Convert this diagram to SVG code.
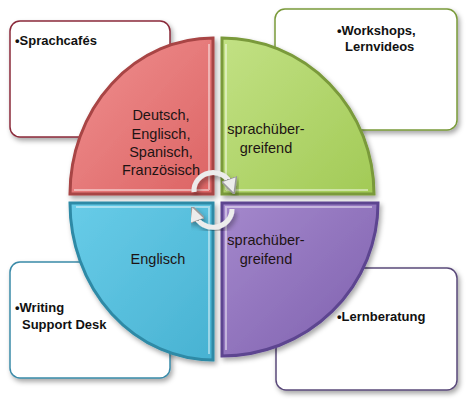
<svg xmlns="http://www.w3.org/2000/svg" width="474" height="401" viewBox="0 0 474 401">
<defs>
<linearGradient id="gRed" x1="0" y1="0" x2="1" y2="1"><stop offset="0" stop-color="#f09090"/><stop offset="1" stop-color="#dc6464"/></linearGradient>
<linearGradient id="gGreen" x1="0" y1="0" x2="1" y2="1"><stop offset="0" stop-color="#c2e184"/><stop offset="1" stop-color="#a2ca56"/></linearGradient>
<linearGradient id="gBlue" x1="0" y1="0" x2="1" y2="1"><stop offset="0" stop-color="#68cce8"/><stop offset="1" stop-color="#48b2d2"/></linearGradient>
<linearGradient id="gPurple" x1="0" y1="0" x2="1" y2="1"><stop offset="0" stop-color="#a488cc"/><stop offset="1" stop-color="#7e60ae"/></linearGradient>
<filter id="sh" x="-10%" y="-10%" width="130%" height="130%"><feDropShadow dx="2" dy="3" stdDeviation="2.5" flood-color="#000" flood-opacity="0.35"/></filter>
<marker id="ah" viewBox="0 0 10 10" refX="4" refY="5" markerWidth="3.2" markerHeight="3.2" orient="auto"><path d="M0,0 L10,5 L0,10 Z" fill="#ececec" stroke="#9a9a9a" stroke-width="1"/></marker>
<style>
.box{fill:#fff;stroke-width:1.5}
.bt{font-family:"Liberation Sans",Arial,sans-serif;font-weight:bold;font-size:13px;fill:#111}
.qt{font-family:"Liberation Sans",Arial,sans-serif;font-size:14.5px;fill:#1e1414;text-anchor:middle}
.q{stroke-width:3;filter:url(#sh)}
.hl{fill:none;stroke:#fff;stroke-opacity:0.45;stroke-width:2}
.arr{fill:none;stroke:#ececec;stroke-width:5;filter:url(#sh)}
</style>
</defs>
<rect width="474" height="401" fill="#fff"/>
<g id="box-tl"><rect class="box" x="10" y="21" width="160" height="116" rx="10" stroke="#8a2a3a" filter="url(#sh)"/><text class="bt" x="15" y="45">•Sprachcafés</text></g>
<g id="box-tr"><rect class="box" x="275" y="9" width="182" height="121" rx="10" stroke="#7a9a3a" filter="url(#sh)"/><text class="bt" x="337" y="35">•Workshops,</text><text class="bt" x="345" y="51">Lernvideos</text></g>
<g id="box-bl"><rect class="box" x="10" y="262" width="160" height="116" rx="10" stroke="#3a8aa8" filter="url(#sh)"/><text class="bt" x="15" y="312">•Writing</text><text class="bt" x="22" y="329">Support Desk</text></g>
<g id="box-br"><rect class="box" x="276" y="268" width="181" height="122" rx="10" stroke="#5a4a7a" filter="url(#sh)"/><text class="bt" x="337" y="321">•Lernberatung</text></g>
<g id="q-red"><path class="q" d="M213,194 L213,38 A143,156 0 0 0 70,194 Z" fill="url(#gRed)" stroke="#a84444"/><path class="hl" d="M209,190 L209,44 M74,190 L209,190"/>
<text class="qt" x="161" y="120">Deutsch,</text><text class="qt" x="161" y="139">Englisch,</text><text class="qt" x="161" y="157">Spanisch,</text><text class="qt" x="161" y="175">Französisch</text></g>
<g id="q-green"><path class="q" d="M222,194 L222,38 A152,156 0 0 1 374,194 Z" fill="url(#gGreen)" stroke="#7a9a3a"/><path class="hl" d="M226,190 L226,44 M226,190 L368,190"/>
<text class="qt" x="266" y="134">sprachüber-</text><text class="qt" x="266" y="153">greifend</text></g>
<g id="q-blue"><path class="q" d="M213,203 L70,203 A143,157 0 0 0 213,360 Z" fill="url(#gBlue)" stroke="#2f8aa6"/><path class="hl" d="M76,207 L209,207 L209,354"/>
<text class="qt" x="158" y="264">Englisch</text></g>
<g id="q-purple"><path class="q" d="M222,203 L378,203 A156,153 0 0 1 222,356 Z" fill="url(#gPurple)" stroke="#5d4590"/><path class="hl" d="M226,350 L226,207 L372,207"/>
<text class="qt" x="266" y="245">sprachüber-</text><text class="qt" x="266" y="264">greifend</text></g>
<g id="connectors">
<path class="arr" d="M194,192 A19,18 0 0 1 231,185" marker-end="url(#ah)"/>
<path class="arr" d="M232,209 A19,18 0 0 1 195,215" marker-end="url(#ah)"/>
</g>
</svg>
